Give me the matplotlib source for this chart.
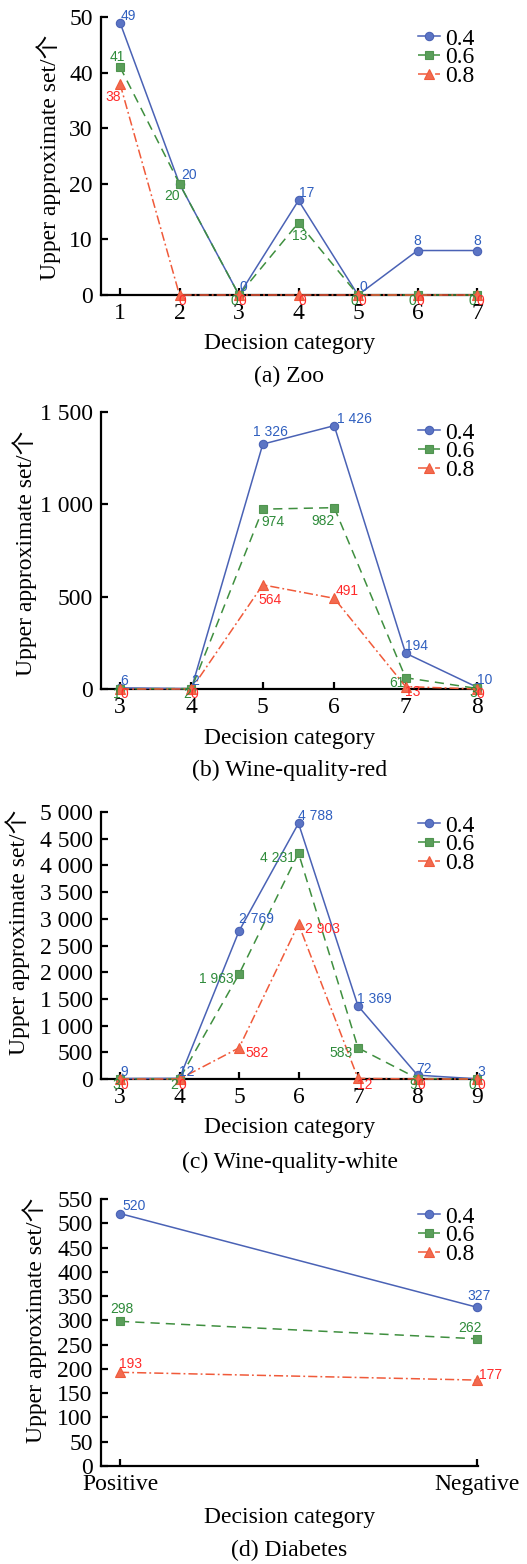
import matplotlib
matplotlib.use("Agg")
import matplotlib.pyplot as plt

# ---------------- data ----------------
thresholds = ["0.4", "0.6", "0.8"]

zoo_categories = ["1", "2", "3", "4", "5", "6", "7"]
zoo_04 = [49, 20, 0, 17, 0, 8, 8]
zoo_06 = [41, 20, 0, 13, 0, 0, 0]
zoo_08 = [38, 0, 0, 0, 0, 0, 0]

red_categories = ["3", "4", "5", "6", "7", "8"]
red_04 = [6, 2, 1326, 1426, 194, 10]
red_06 = [1, 2, 974, 982, 61, 3]
red_08 = [0, 0, 564, 491, 13, 0]

white_categories = ["3", "4", "5", "6", "7", "8", "9"]
white_04 = [9, 12, 2769, 4788, 1369, 72, 3]
white_06 = [3, 2, 1963, 4231, 583, 9, 0]
white_08 = [0, 0, 582, 2903, 12, 0, 0]

diabetes_categories = ["Positive", "Negative"]
diabetes_04 = [520, 327]
diabetes_06 = [298, 262]
diabetes_08 = [193, 177]

# ---------------- styling ----------------
W, H, DPI = 527, 1564, 100
SERIF = ["Liberation Serif", "Noto Sans CJK SC"]
SANS = ["Liberation Sans", "DejaVu Sans"]
FS = 17

plt.rcParams["font.family"] = SERIF
plt.rcParams["axes.unicode_minus"] = False

series_style = [
    dict(color="#4a62b5", ls="-", marker="o", ms=6, mfc="#5b74c4", mec="#4a62b5", lw=1.1),
    dict(color="#3f8f3f", ls=(0, (6, 4)), marker="s", ms=6, mfc="#5a9e5a", mec="#4f944f", lw=1.1),
    dict(color="#f05a3a", ls=(0, (6, 2, 1.2, 2)), marker="^", ms=6.5, mfc="#f26a50", mec="#f05a3a", lw=1.1),
]
label_colors = ["#2f5fbf", "#2e8b3a", "#ff2a2a"]

# per-point label offsets in pixels (dx, dy up), one list per threshold
zoo_offsets = [
    [(8, 7), (10, 9), (4, 8), (8, 7), (5, 8), (0, 10), (0, 10)],
    [(-3, 10), (-7, -12), (-5, -6), (1, -13), (-4, -6), (-5, -6), (-5, -6)],
    [(-7, -13), (3, -6), (3, -6), (4, -6), (4, -6), (3, -6), (3, -6)],
]
red_offsets = [
    [(4, 7), (4, 8), (8, 12), (20, 7), (11, 7), (8, 7)],
    [(-3, -5), (-4, -5), (10, -13), (-11, -13), (-9, -5), (-4, -5)],
    [(4, -5), (3, -5), (7, -15), (13, 7), (7, -5), (3, -5)],
]
white_offsets = [
    [(4, 7), (7, 6), (17, 12), (17, 7), (16, 7), (7, 6), (4, 7)],
    [(-4, -6), (-5, -6), (-23, -5), (-21, -5), (-17, -5), (-4, -6), (-5, -6)],
    [(4, -6), (3, -6), (18, -5), (24, -5), (7, -7), (4, -6), (4, -6)],
]
diabetes_offsets = [
    [(14, 8), (2, 11)],
    [(2, 12), (-7, 11)],
    [(11, 8), (14, 5)],
]


def fmt(v):
    return f"{v:,}".replace(",", " ")


fig = plt.figure(figsize=(W / DPI, H / DPI), dpi=DPI)

AX_L, AX_R = 101, 478
FIRST_X, LAST_X = 120, 477


def fx(px):
    return px / W


def fy(py):
    return 1 - py / H


def panel(top, bottom, cats, series, offsets, yticks, ylab_x, ylab_y,
          xlab_y, title_y, title, legend_top):
    ax = fig.add_axes([fx(AX_L), fy(bottom), (AX_R - AX_L) / W, (bottom - top) / H])
    n = len(cats)
    x = list(range(n))
    unit = (LAST_X - FIRST_X) / (n - 1)
    ax.set_xlim(-(FIRST_X - AX_L) / unit, (n - 1) + (AX_R - LAST_X) / unit)
    ax.set_ylim(yticks[0], yticks[-1])

    handles = []
    for vals, st, col, offs, name in zip(series, series_style, label_colors, offsets, thresholds):
        h, = ax.plot(x, vals, linestyle=st["ls"], color=st["color"], lw=st["lw"],
                     marker=st["marker"], ms=st["ms"], mfc=st["mfc"], mec=st["mec"],
                     mew=0.8, clip_on=False, zorder=4, label=name)
        handles.append(h)
        for xi, v, (dx, dy) in zip(x, vals, offs):
            ax.annotate(fmt(v), (xi, v), xytext=(dx, dy), textcoords="offset pixels",
                        ha="center", va="center", fontsize=10, color=col,
                        family=SANS, zorder=6, annotation_clip=False)

    for s in ("top", "right"):
        ax.spines[s].set_visible(False)
    for s in ("left", "bottom"):
        ax.spines[s].set_linewidth(1.6)
        ax.spines[s].set_zorder(3)
    ax.set_xticks(x)
    ax.set_xticklabels(cats)
    ax.set_yticks(yticks)
    ax.set_yticklabels([fmt(t) for t in yticks])
    ax.tick_params(direction="in", length=5, width=1.6, labelsize=FS, pad=6)
    ax.patch.set_alpha(0)

    ax.legend(handles=handles, loc="upper left",
              bbox_to_anchor=((418 - AX_L) / (AX_R - AX_L), (bottom - legend_top) / (bottom - top)),
              frameon=False, fontsize=17, handlelength=0.95, handletextpad=0.2,
              labelspacing=-0.12, borderpad=0, borderaxespad=0, numpoints=1)

    cx = (AX_L + AX_R) / 2
    fig.text(fx(ylab_x), fy(ylab_y), "Upper approximate set/个", rotation=90,
             ha="center", va="center", fontsize=FS, family=SERIF)
    fig.text(fx(cx), fy(xlab_y), "Decision category", ha="center", va="center",
             fontsize=FS, family=SERIF)
    fig.text(fx(cx), fy(title_y), title, ha="center", va="center",
             fontsize=FS, family=SERIF)
    return ax


panel(17, 295, zoo_categories, [zoo_04, zoo_06, zoo_08], zoo_offsets,
      [0, 10, 20, 30, 40, 50], 49, 157, 344, 376, "(a) Zoo", 28)
panel(412, 689, red_categories, [red_04, red_06, red_08], red_offsets,
      [0, 500, 1000, 1500], 25, 553, 738, 770, "(b) Wine-quality-red", 422)
panel(812, 1079, white_categories, [white_04, white_06, white_08], white_offsets,
      list(range(0, 5001, 500)), 18, 932, 1128, 1162, "(c) Wine-quality-white", 815)
panel(1199, 1466, diabetes_categories, [diabetes_04, diabetes_06, diabetes_08], diabetes_offsets,
      list(range(0, 551, 50)), 35, 1320, 1517, 1550, "(d) Diabetes", 1206)

fig.savefig("out.png", dpi=DPI)
